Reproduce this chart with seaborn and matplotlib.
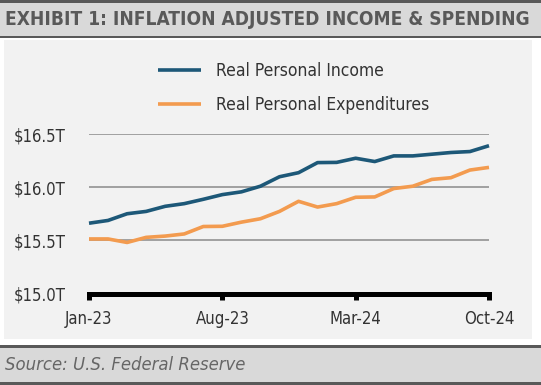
import pandas as pd
import matplotlib.pyplot as plt
import matplotlib.patches as mpatches
import seaborn as sns

# Monthly data, Jan-23 .. Oct-24 (trillions of dollars)
months = pd.date_range('2023-01-01', '2024-10-01', freq='MS').strftime('%b-%y').tolist()
income = [15.661, 15.687, 15.750, 15.772, 15.820, 15.845, 15.886, 15.930,
          15.956, 16.009, 16.098, 16.136, 16.231, 16.233, 16.272, 16.241,
          16.294, 16.294, 16.310, 16.326, 16.335, 16.390]
spending = [15.513, 15.513, 15.480, 15.528, 15.540, 15.560, 15.630, 15.632,
            15.671, 15.703, 15.772, 15.867, 15.813, 15.845, 15.905, 15.908,
            15.987, 16.009, 16.073, 16.089, 16.161, 16.186]
series_names = ['Real Personal Income', 'Real Personal Expenditures']
tick_labels = ['Jan-23', 'Aug-23', 'Mar-24', 'Oct-24']
y_ticks = [15.0, 15.5, 16.0, 16.5]

df = pd.DataFrame({'idx': range(len(months)), 'month': months,
                   series_names[0]: income, series_names[1]: spending})
long = df.melt(id_vars=['idx', 'month'], value_vars=series_names,
               var_name='series', value_name='value')

sns.set_style('white')
plt.rcParams['font.family'] = ['DejaVu Sans']
plt.rcParams['font.stretch'] = 'condensed'

W, H = 541, 385
fig = plt.figure(figsize=(W / 100, H / 100), dpi=100)
fig.patch.set_facecolor('white')
renderer = fig.canvas.get_renderer()


def px_rect(x0, y0, x1, y1, **kw):
    # rectangle in pixel coords measured from the top-left, kept behind the axes
    fig.patches.append(mpatches.Rectangle((x0 / W, 1 - y1 / H), (x1 - x0) / W, (y1 - y0) / H,
                                          transform=fig.transFigure, zorder=-5, **kw))


def fit_width(txt, target_px):
    w = txt.get_window_extent(renderer=renderer).width
    txt.set_fontsize(txt.get_fontsize() * target_px / w)


# chart panel
px_rect(4, 40, 532, 339, facecolor='#f2f2f2', edgecolor='none')
# title bar
px_rect(0, 0, W, 38, facecolor='#d9d9d9', edgecolor='none')
px_rect(0, 0, W, 3, facecolor='#595959', edgecolor='none')
px_rect(0, 35.5, W, 38, facecolor='#595959', edgecolor='none')
# source bar
px_rect(0, 345, W, 385, facecolor='#d9d9d9', edgecolor='none')
px_rect(0, 345, W, 347.5, facecolor='#595959', edgecolor='none')
px_rect(0, 382, W, 385, facecolor='#595959', edgecolor='none')

title = fig.text(5 / W, 1 - 19.5 / H, 'EXHIBIT 1: INFLATION ADJUSTED INCOME & SPENDING',
                 fontsize=14, fontweight='bold', color='#595959', ha='left', va='center')
fit_width(title, 525)
source = fig.text(5 / W, 1 - 365 / H, 'Source: U.S. Federal Reserve',
                  fontsize=12, fontstyle='italic', color='#666666', ha='left', va='center')
fit_width(source, 240)

ax = fig.add_axes([89 / W, (H - 293.5) / H, 400 / W, (293.5 - 134) / H])
ax.set_facecolor('none')

sns.lineplot(data=long, x='idx', y='value', hue='series', hue_order=series_names,
             palette=['#1d5878', '#f39b4f'], linewidth=2.6, ax=ax)
for ln in ax.lines:
    ln.set_clip_on(False)
    ln.set_solid_capstyle('butt')

ax.set_xlim(0, len(months) - 1)
ax.set_ylim(15.0, 16.5)
ax.set_xticks([months.index(m) for m in tick_labels])
ax.set_xticklabels(tick_labels)
ax.set_yticks(y_ticks)
ax.set_yticklabels(['${:.1f}T'.format(v) for v in y_ticks])
ax.set_xlabel('')
ax.set_ylabel('')

ax.yaxis.grid(True, color='#8a8a8a', linewidth=1.1)
ax.set_axisbelow(True)
for s in ['left', 'right', 'top']:
    ax.spines[s].set_visible(False)
ax.spines['bottom'].set_linewidth(3.6)
ax.spines['bottom'].set_color('black')
ax.spines['bottom'].set_capstyle('projecting')

ax.tick_params(axis='x', bottom=True, direction='out', length=4.2, width=3.6, color='black',
               pad=8, labelsize=12, labelcolor='#333333')
ax.tick_params(axis='y', left=False, length=0, pad=17, labelsize=12, labelcolor='#333333')

ax.legend(loc='upper left', bbox_to_anchor=(158 / W, 1 - 62 / H), bbox_transform=fig.transFigure,
          frameon=False, fontsize=12.5, handlelength=2.47, handletextpad=0.86,
          labelspacing=0.9, borderpad=0, borderaxespad=0, labelcolor='#333333')

fig.savefig('out.png', dpi=100)
